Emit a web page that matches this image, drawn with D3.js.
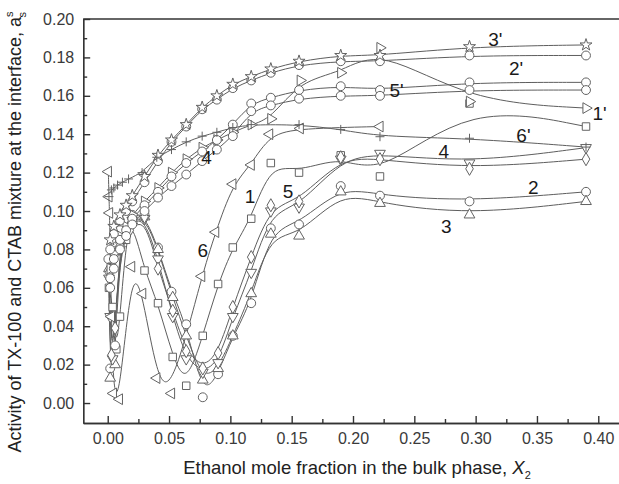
<!DOCTYPE html>
<html>
<head>
<meta charset="utf-8">
<script src="https://cdn.jsdelivr.net/npm/d3@7"></script>
<style>
  body { margin: 0; background: #fff; }
  svg { font-family: "Liberation Sans", Arial, sans-serif; }
</style>
</head>
<body>
<svg id="chart"></svg>
<script>
var width = 619, height = 484;

var xTicks = [0, 0.05, 0.10, 0.15, 0.20, 0.25, 0.30, 0.35, 0.40];
var xMinor = [0.025, 0.075, 0.125, 0.175, 0.225, 0.275, 0.325, 0.375];
var yTicks = [0, 0.02, 0.04, 0.06, 0.08, 0.10, 0.12, 0.14, 0.16, 0.18, 0.20];
var yMinor = [0.01, 0.03, 0.05, 0.07, 0.09, 0.11, 0.13, 0.15, 0.17, 0.19];

// unprimed series (x, a_s)
var s1 = [[0.001,0.060],[0.004,0.050],[0.007,0.028],[0.010,0.045],[0.015,0.085],[0.020,0.095],[0.030,0.069],[0.041,0.052],[0.053,0.024],[0.064,0.009],[0.0775,0.035],[0.090,0.062],[0.102,0.081],[0.117,0.096],[0.133,0.125],[0.156,0.120],[0.190,0.129],[0.222,0.118],[0.295,0.156],[0.390,0.144]];
var s2 = [[0.0005,0.075],[0.002,0.018],[0.006,0.030],[0.010,0.090],[0.020,0.098],[0.030,0.098],[0.041,0.081],[0.052,0.058],[0.064,0.041],[0.0775,0.003],[0.090,0.015],[0.102,0.035],[0.117,0.052],[0.133,0.091],[0.156,0.093],[0.190,0.113],[0.222,0.108],[0.295,0.105],[0.390,0.110]];
var s3 = [[0.001,0.070],[0.002,0.013],[0.006,0.020],[0.010,0.085],[0.020,0.095],[0.030,0.097],[0.041,0.080],[0.053,0.055],[0.064,0.035],[0.0775,0.012],[0.090,0.018],[0.102,0.035],[0.117,0.057],[0.133,0.088],[0.156,0.087],[0.190,0.110],[0.222,0.104],[0.295,0.098],[0.390,0.105]];
var s4 = [[0.001,0.065],[0.002,0.045],[0.004,0.023],[0.010,0.080],[0.020,0.095],[0.030,0.096],[0.041,0.075],[0.053,0.045],[0.064,0.023],[0.0775,0.016],[0.090,0.021],[0.102,0.045],[0.117,0.068],[0.133,0.100],[0.156,0.102],[0.190,0.127],[0.222,0.130],[0.295,0.125],[0.390,0.133]];
var s5 = [[0.001,0.068],[0.003,0.025],[0.006,0.039],[0.010,0.082],[0.018,0.090],[0.030,0.097],[0.041,0.070],[0.053,0.048],[0.064,0.027],[0.0775,0.018],[0.090,0.026],[0.102,0.050],[0.117,0.076],[0.133,0.103],[0.156,0.105],[0.190,0.128],[0.222,0.127],[0.295,0.122],[0.390,0.127]];
var s6 = [[0.0005,0.1205],[0.001,0.1075],[0.0015,0.099],[0.003,0.045],[0.0046,0.005],[0.0095,0.002],[0.0195,0.071],[0.0285,0.057],[0.040,0.013],[0.052,0.005],[0.0766,0.066],[0.088,0.089],[0.102,0.114],[0.117,0.124],[0.132,0.140],[0.157,0.143],[0.222,0.144]];

// primed series
var p1 = [[0.002,0.070],[0.005,0.078],[0.010,0.087],[0.015,0.092],[0.020,0.098],[0.030,0.105],[0.041,0.112],[0.052,0.120],[0.064,0.127],[0.077,0.133],[0.089,0.137],[0.102,0.141],[0.117,0.145],[0.133,0.148],[0.157,0.168],[0.190,0.172],[0.222,0.185],[0.295,0.157],[0.390,0.1536]];
var p2 = [[0.002,0.080],[0.005,0.088],[0.010,0.095],[0.015,0.100],[0.020,0.105],[0.030,0.115],[0.041,0.126],[0.052,0.136],[0.064,0.144],[0.077,0.153],[0.089,0.158],[0.102,0.164],[0.117,0.168],[0.133,0.172],[0.156,0.176],[0.190,0.178],[0.222,0.178],[0.295,0.181],[0.390,0.181]];
var p3 = [[0.002,0.085],[0.005,0.092],[0.010,0.098],[0.015,0.103],[0.020,0.108],[0.030,0.118],[0.041,0.129],[0.052,0.137],[0.064,0.145],[0.077,0.154],[0.089,0.160],[0.102,0.166],[0.117,0.170],[0.133,0.174],[0.156,0.178],[0.190,0.181],[0.222,0.181],[0.295,0.1856],[0.390,0.1865]];
var p4 = [[0.002,0.065],[0.005,0.075],[0.010,0.085],[0.015,0.090],[0.020,0.096],[0.030,0.103],[0.041,0.110],[0.052,0.118],[0.064,0.125],[0.077,0.131],[0.089,0.137],[0.102,0.145],[0.117,0.156],[0.133,0.159],[0.156,0.163],[0.190,0.165],[0.222,0.163],[0.295,0.167],[0.390,0.167]];
var p5 = [[0.002,0.060],[0.005,0.070],[0.010,0.080],[0.015,0.087],[0.020,0.093],[0.030,0.100],[0.041,0.107],[0.052,0.113],[0.064,0.119],[0.077,0.126],[0.089,0.132],[0.102,0.139],[0.117,0.152],[0.133,0.155],[0.156,0.1585],[0.190,0.160],[0.222,0.160],[0.295,0.163],[0.390,0.163]];
var p6 = [[0.001,0.1075],[0.003,0.111],[0.005,0.112],[0.008,0.1135],[0.012,0.115],[0.017,0.1167],[0.028,0.120],[0.040,0.128],[0.052,0.132],[0.064,0.136],[0.077,0.139],[0.089,0.141],[0.102,0.1435],[0.117,0.145],[0.156,0.145],[0.190,0.1425],[0.222,0.1387],[0.295,0.1379],[0.390,0.1333]];

var seriesData  = [s1, s2, s3, s4, s5, s6, p1, p2, p3, p4, p5, p6];
var seriesShape = ["square","circle","up","down","diamond","left","right","circle","star","circle","circle","plus"];

var labelText = ["1","2","3","4","5","6","1'","2'","3'","4'","5'","6'"];
var labelX = [0.116, 0.347, 0.276, 0.274, 0.147, 0.0775, 0.401, 0.333, 0.316, 0.082, 0.2356, 0.339];
var labelY = [0.1075, 0.1121, 0.0922, 0.131, 0.110, 0.0797, 0.151, 0.1743, 0.1894, 0.128, 0.1627, 0.1396];

var svg = d3.select('#chart')
    .attr("width", width)
    .attr("height", height);

var xscale = d3.scaleLinear()
    .domain([-0.02, 0.42])
    .range([83.2, 622.8]);
var yscale = d3.scaleLinear()
    .domain([-0.0104, 0.20])
    .range([423, 19]);

var lineColor = "#5e5e5e";

// axes
var xAxis = d3.axisBottom(xscale).tickValues(xTicks).tickSizeInner(-7).tickSizeOuter(0)
    .tickPadding(10).tickFormat(d3.format(".2f"));
var xAxisMinor = d3.axisBottom(xscale).tickValues(xMinor).tickSizeInner(-4).tickSizeOuter(0).tickFormat("");
var yAxis = d3.axisLeft(yscale).tickValues(yTicks).tickSizeInner(-7).tickSizeOuter(0)
    .tickPadding(9).tickFormat(d3.format(".2f"));
var yAxisMinor = d3.axisLeft(yscale).tickValues(yMinor).tickSizeInner(-4).tickSizeOuter(0).tickFormat("");

svg.append('g').attr("transform", "translate(0,423)").call(xAxisMinor);
svg.append('g').classed('xAxis', true).attr("transform", "translate(0,423)").call(xAxis);
svg.append('g').attr("transform", "translate(83.2,0)").call(yAxisMinor);
svg.append('g').classed('yAxis', true).attr("transform", "translate(83.2,0)").call(yAxis);

svg.selectAll('.domain, .tick line').attr("stroke", "#333").attr("stroke-width", 1.4);
svg.selectAll('.tick text').attr("fill", "#3a3a3a").style("font-size", "16px")
    .style("font-family", '"Liberation Sans", Arial, sans-serif');

svg.append('line')
    .attr("x1", 83.2).attr("x2", width).attr("y1", 19).attr("y2", 19)
    .attr("stroke", "#333").attr("stroke-width", 1.4);

// curves
var line = d3.line()
    .x(d => xscale(d[0]))
    .y(d => yscale(d[1]))
    .curve(d3.curveBasis);

var plot = svg.append('g');

plot.selectAll('.curve')
    .data(seriesData)
    .enter()
    .append('path')
    .classed('curve', true)
    .attr("d", line)
    .attr("fill", "none")
    .attr("stroke", lineColor)
    .attr("stroke-width", 1);

function markerPath(shape){
    if(shape === "plus") return "M-4.5,0H4.5M0,-4.5V4.5";
    if(shape === "circle") return d3.symbol(d3.symbolCircle, 62)();
    if(shape === "square") return d3.symbol(d3.symbolSquare, 56)();
    if(shape === "diamond") return d3.symbol(d3.symbolDiamond, 50)();
    if(shape === "star") return d3.symbol(d3.symbolStar, 45)();
    return d3.symbol(d3.symbolTriangle, 50)();
}
var rotation = {up: 0, right: 90, down: 180, left: -90};

seriesData.forEach(function(data, i){
    var shape = seriesShape[i];
    plot.append('g')
        .selectAll('path')
        .data(data)
        .enter()
        .append('path')
        .attr("d", markerPath(shape))
        .attr("transform", d => `translate(${xscale(d[0])},${yscale(d[1])}) rotate(${rotation[shape] || 0})`)
        .attr("fill", shape === "plus" ? "none" : "#fff")
        .attr("stroke", "#636363")
        .attr("stroke-width", 1);
});

// curve labels
svg.selectAll('.curveLabel')
    .data(labelText)
    .enter()
    .append('text')
    .classed('curveLabel', true)
    .attr("x", (d, i) => xscale(labelX[i]))
    .attr("y", (d, i) => yscale(labelY[i]))
    .attr("text-anchor", "middle")
    .attr("dy", "0.35em")
    .attr("fill", "#1a1a1a")
    .style("font-size", "19px")
    .text(d => d);

// axis titles
var xt = svg.append('text')
    .attr("x", 357)
    .attr("y", 474)
    .attr("text-anchor", "middle")
    .attr("fill", "#222")
    .style("font-size", "18.5px");
xt.append('tspan').text("Ethanol mole fraction in the bulk phase, ");
xt.append('tspan').style("font-style", "italic").text("X");
xt.append('tspan').attr("dy", 5).style("font-size", "11px").text("2");

var yt = svg.append('text')
    .attr("transform", "translate(21,232) rotate(-90)")
    .attr("text-anchor", "middle")
    .attr("fill", "#222")
    .style("font-size", "18px");
yt.append('tspan').text("Activity of TX-100 and CTAB mixture at the interface, a");
yt.append('tspan').attr("dy", -8).style("font-size", "11px").text("s");
yt.append('tspan').attr("dx", -6).attr("dy", 13).style("font-size", "11px").text("s");
</script>
</body>
</html>
